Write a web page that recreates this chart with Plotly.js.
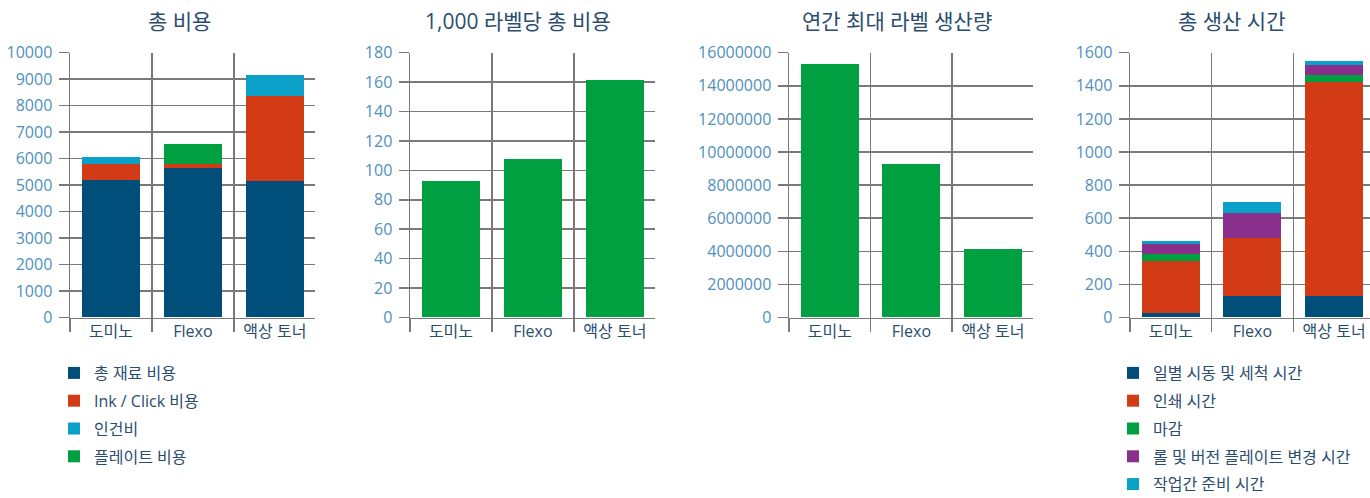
<!DOCTYPE html>
<html>
<head>
<meta charset="utf-8">
<script src="https://cdn.plot.ly/plotly-3.0.1.min.js"></script>
<style>html,body{margin:0;padding:0;background:#fff;}#chart{width:1370px;height:498px;}</style>
</head>
<body>
<div id="chart"></div>
<script>
// ---- data ----
const categories = ['도미노', 'Flexo', '액상 토너'];

const chartTitles = ['총 비용', '1,000 라벨당 총 비용', '연간 최대 라벨 생산량', '총 생산 시간'];

const costSeriesNames = ['총 재료 비용', 'Ink / Click 비용', '인건비', '플레이트 비용'];
const materialCost = [5190, 5650, 5150];
const inkClickCost = [610, 150, 3230];
const laborCost = [260, 0, 790];
const plateCost = [0, 750, 0];

const costPer1000 = [93, 108, 161.5];

const annualMaxLabels = [15320000, 9280000, 4150000];

const timeSeriesNames = ['일별 시동 및 세척 시간', '인쇄 시간', '마감', '롤 및 버전 플레이트 변경 시간', '작업간 준비 시간'];
const setupCleanTime = [27, 127, 127];
const printTime = [315, 356, 1298];
const finishingTime = [43, 0, 39];
const rollChangeTime = [62, 151, 62];
const makeReadyTime = [18, 65, 24];

// ---- styling ----
const W = 1370, H = 498;
const FONT = '"Open Sans", "Noto Sans CJK KR", sans-serif';
const NAVY = '#004f7a', RED = '#d33a16', CYAN = '#0aa0c8', GREEN = '#00a040', PURPLE = '#8a2f8c';
const LINE = '#7a7a7a';
const TEXT = '#2a4d6e';
const TICK = '#4f8fbd';

const px = v => v / W;
const py = v => 1 - v / H;

const yDom = [py(317.5), py(52.7)];
const xDoms = [[px(70), px(315)], [px(410), px(655)], [px(789), px(1033)], [px(1130), 1]];
const xRanges = [[-0.5, 2.49], [-0.5, 2.49], [-0.5, 2.49], [-0.5, 2.44]];
const yRanges = [[0, 10000], [0, 180], [0, 16000000], [0, 1600]];
const yDticks = [1000, 20, 2000000, 200];

function bar(name, y, color, n, legend, showlegend) {
  const sfx = n === 1 ? '' : n;
  return {
    type: 'bar', name: name, x: categories, y: y,
    xaxis: 'x' + sfx, yaxis: 'y' + sfx,
    marker: {color: color, line: {width: 0}},
    legend: legend, legendgroup: name, showlegend: showlegend,
    hoverinfo: 'skip'
  };
}

const traces = [
  bar(costSeriesNames[0], materialCost, NAVY, 1, 'legend', true),
  bar(costSeriesNames[1], inkClickCost, RED, 1, 'legend', true),
  bar(costSeriesNames[2], laborCost, CYAN, 1, 'legend', true),
  bar(costSeriesNames[3], plateCost, GREEN, 1, 'legend', true),
  bar('1,000 라벨당 총 비용', costPer1000, GREEN, 2, 'legend', false),
  bar('연간 최대 라벨 생산량', annualMaxLabels, GREEN, 3, 'legend', false),
  bar(timeSeriesNames[0], setupCleanTime, NAVY, 4, 'legend2', true),
  bar(timeSeriesNames[1], printTime, RED, 4, 'legend2', true),
  bar(timeSeriesNames[2], finishingTime, GREEN, 4, 'legend2', true),
  bar(timeSeriesNames[3], rollChangeTime, PURPLE, 4, 'legend2', true),
  bar(timeSeriesNames[4], makeReadyTime, CYAN, 4, 'legend2', true)
];

const layout = {
  width: W, height: H,
  margin: {l: 0, r: 0, t: 0, b: 0, autoexpand: false},
  paper_bgcolor: '#fff', plot_bgcolor: '#fff',
  font: {family: FONT, size: 16, color: TEXT},
  barmode: 'stack', bargap: 0.29,
  annotations: [],
  legend: {
    x: px(54), y: py(356), xanchor: 'left', yanchor: 'top',
    traceorder: 'grouped', tracegroupgap: 4,
    font: {family: FONT, size: 16, color: TEXT},
    bgcolor: 'rgba(0,0,0,0)', itemclick: false, itemdoubleclick: false
  },
  legend2: {
    x: px(1113), y: py(356), xanchor: 'left', yanchor: 'top',
    traceorder: 'grouped', tracegroupgap: 4,
    font: {family: FONT, size: 16, color: TEXT},
    bgcolor: 'rgba(0,0,0,0)', itemclick: false, itemdoubleclick: false
  }
};

const titleCenters = [179, 518, 897, 1232];

for (let i = 0; i < 4; i++) {
  const sfx = i === 0 ? '' : (i + 1);
  layout['xaxis' + sfx] = {
    domain: xDoms[i], range: xRanges[i], anchor: 'y' + sfx,
    type: 'category', tickson: 'boundaries',
    showgrid: true, gridcolor: LINE, gridwidth: 1.5,
    ticks: 'outside', ticklen: 13, tickwidth: 1.5, tickcolor: LINE,
    ticklabelstandoff: -1,
    showline: true, linecolor: LINE, linewidth: 1.5,
    tickfont: {family: FONT, size: 16, color: TEXT},
    zeroline: false, fixedrange: true
  };
  layout['yaxis' + sfx] = {
    domain: yDom, range: yRanges[i], anchor: 'x' + sfx,
    dtick: yDticks[i], tick0: 0, tickformat: 'd',
    showgrid: true, gridcolor: LINE, gridwidth: 1.5,
    ticks: 'outside', ticklen: 10, tickwidth: 1.5, tickcolor: LINE,
    ticklabelstandoff: 3,
    showline: true, linecolor: LINE, linewidth: 1.5,
    tickfont: {family: FONT, size: 16, color: TICK},
    zeroline: false, fixedrange: true
  };
  layout.annotations.push({
    text: chartTitles[i], xref: 'paper', yref: 'paper',
    x: px(titleCenters[i]), y: py(21), xanchor: 'center', yanchor: 'middle',
    showarrow: false, font: {family: FONT, size: 21, color: TEXT}
  });
}

Plotly.newPlot('chart', traces, layout, {displayModeBar: false, staticPlot: true});
</script>
</body>
</html>
